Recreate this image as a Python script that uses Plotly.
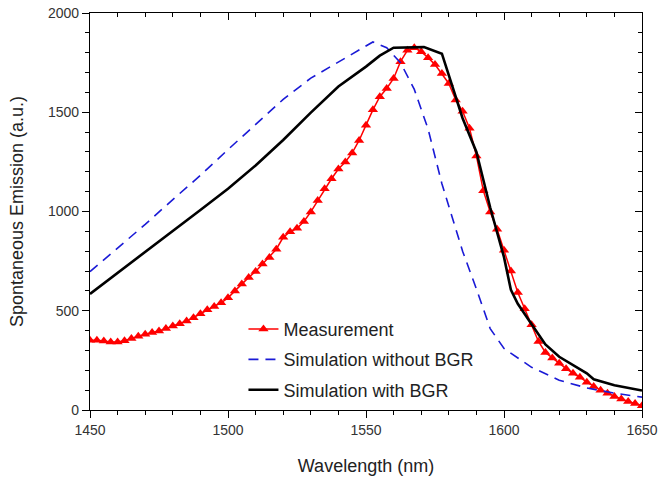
import plotly.graph_objects as go

# Measurement (2.5 nm grid)
meas_x = [1450 + 2.5 * i for i in range(81)]
meas_y = [352, 352, 348, 343, 343, 349, 360, 372, 382, 390,
          398, 410, 423, 434, 448, 465, 485, 505, 522, 540,
          565, 600, 635, 668, 698, 735, 768, 810, 870, 898,
          915, 950, 998, 1055, 1115, 1165, 1214, 1249, 1295, 1358,
          1435, 1512, 1578, 1620, 1670, 1755, 1812, 1825, 1805, 1775,
          1740, 1695, 1645, 1562, 1505, 1420, 1280, 1105, 997, 910,
          805, 700, 592, 510, 430, 345, 290, 262, 235, 208,
          185, 165, 140, 118, 100, 85, 68, 55, 43, 33, 22]

# Simulation without BGR
nobgr_x = [1450, 1460, 1470, 1480, 1490, 1500, 1510, 1520, 1530, 1540, 1547,
           1552.5, 1557.5, 1562.5, 1567.5, 1572.5, 1577.5, 1585, 1590, 1595,
           1600, 1605, 1610, 1620, 1630, 1640, 1650]
nobgr_y = [697, 815, 935, 1060, 1182, 1312, 1440, 1565, 1672, 1752, 1810,
           1854, 1825, 1750, 1615, 1415, 1140, 800, 610, 410,
           310, 262, 215, 150, 111, 85, 65]

# Simulation with BGR
bgr_x = [1450, 1460, 1470, 1480, 1490, 1500, 1510, 1520, 1530, 1540, 1550,
         1555, 1560, 1571, 1577.5, 1585, 1590, 1595, 1600, 1602.5, 1605,
         1610, 1615, 1620, 1625, 1630, 1632.5, 1640, 1650]
bgr_y = [585, 690, 795, 902, 1008, 1115, 1232, 1360, 1498, 1630, 1730,
         1785, 1825, 1828, 1795, 1470, 1300, 1020, 770, 605, 535,
         432, 330, 268, 228, 185, 155, 125, 98]

x_ticks = [1450, 1500, 1550, 1600, 1650]
y_ticks = [0, 500, 1000, 1500, 2000]

FONT = "Liberation Sans, Arial, sans-serif"

fig = go.Figure()
fig.add_trace(go.Scatter(x=meas_x, y=meas_y, mode="lines+markers", name="Measurement",
                         legendgroup="m",
                         line=dict(color="#ff0000", width=1.5),
                         marker=dict(symbol="triangle-up", size=9, color="#ff0000")))
fig.add_trace(go.Scatter(x=nobgr_x, y=nobgr_y, mode="lines", name="Simulation without BGR",
                         legendgroup="n",
                         line=dict(color="#1a1ad6", width=1.6, dash="10px,7px")))
fig.add_trace(go.Scatter(x=bgr_x, y=bgr_y, mode="lines", name="Simulation with BGR",
                         legendgroup="b",
                         line=dict(color="#000000", width=2.6)))
fig.add_trace(go.Scatter(x=[None], y=[None], xaxis="x2", yaxis="y2", showlegend=False,
                         hoverinfo="skip"))

common = dict(showgrid=False, zeroline=False, showline=True, linecolor="#000",
              linewidth=1.3, tickcolor="#000", tickwidth=1.2, automargin=False)

fig.update_layout(
    width=660, height=477,
    margin=dict(l=90, r=18, t=13, b=67),
    paper_bgcolor="white", plot_bgcolor="white",
    font=dict(family=FONT, color="#222"),
    xaxis=dict(range=[1450, 1650], tickvals=x_ticks, ticks="outside", ticklen=7,
               minor=dict(dtick=10, ticks="outside", ticklen=4, tickcolor="#000"),
               tickfont=dict(size=14, color="#333"),
               title=dict(text="Wavelength (nm)", font=dict(size=18, color="#222"), standoff=22),
               **common),
    yaxis=dict(range=[0, 2000], tickvals=y_ticks, ticks="outside", ticklen=7,
               minor=dict(dtick=100, ticks="outside", ticklen=4, tickcolor="#000"),
               tickfont=dict(size=14, color="#333"),
               title=dict(text="Spontaneous Emission (a.u.)", font=dict(size=18, color="#222"), standoff=19),
               **common),
    xaxis2=dict(range=[1450, 1650], overlaying="x", side="top", tickvals=x_ticks,
                ticks="inside", ticklen=7, showticklabels=False,
                minor=dict(dtick=10, ticks="inside", ticklen=4, tickcolor="#000"),
                **common),
    yaxis2=dict(range=[0, 2000], overlaying="y", side="right", tickvals=y_ticks,
                ticks="inside", ticklen=7, showticklabels=False,
                minor=dict(dtick=100, ticks="inside", ticklen=4, tickcolor="#000"),
                **common),
    legend=dict(x=0.278, y=0.25, xanchor="left", yanchor="top",
                bgcolor="rgba(0,0,0,0)", font=dict(size=18, color="#222"),
                tracegroupgap=4),
)

fig.write_html("out.html")
